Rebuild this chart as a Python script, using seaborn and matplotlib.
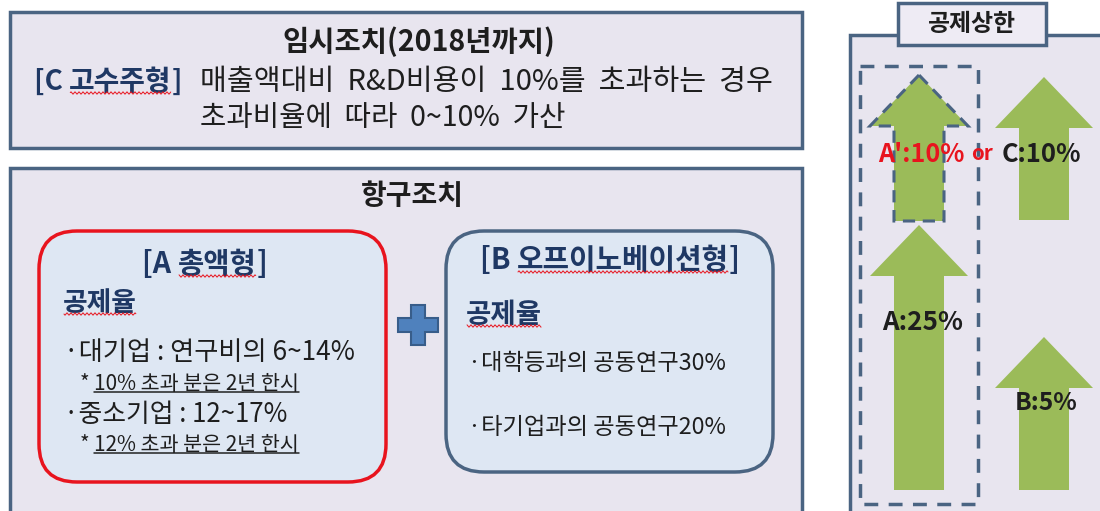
import numpy as np
import matplotlib
matplotlib.use("Agg")
import matplotlib.pyplot as plt
import seaborn as sns
from matplotlib.patches import Rectangle, FancyBboxPatch, FancyArrow, Polygon

sns.set_theme(style="white")
plt.rcParams['font.family'] = ['Noto Sans CJK KR', 'DejaVu Sans']

# ---- content ----
temp_title = "임시조치(2018년까지)"
temp_tag = ["[C ", "고수주형", "]"]
temp_line1 = "매출액대비  R&D비용이  10%를  초과하는  경우"
temp_line2 = "초과비율에  따라  0~10%  가산"
perm_title = "항구조치"
a_tag = ["[A ", "총액형", "]"]
a_head = "공제율"
a_items = ["·대기업 : 연구비의 6~14%", "·중소기업 : 12~17%"]
a_notes = ["10% 초과 분은 2년 한시", "12% 초과 분은 2년 한시"]
b_tag = ["[B ", "오프이노베이션형", "]"]
b_head = "공제율"
b_items = ["·대학등과의 공동연구30%", "·타기업과의 공동연구20%"]
cap_title = "공제상한"
cap_names = ["A'", "C", "A", "B"]
cap_rates = [10, 10, 25, 5]

# colors
PANEL_FILL = "#E8E5EF"
PANEL_EDGE = "#4A6482"
INNER_FILL = "#DEE7F3"
NAVY = "#1F3864"
GREEN = "#9BBB59"
RED = "#E8141E"
INK = "#1E1E1E"

fig = plt.figure(figsize=(11, 5.11), dpi=100)
ax = fig.add_axes([0, 0, 1, 1])
ax.set_xlim(0, 1100)
ax.set_ylim(511, 0)
ax.axis('off')
fig.patch.set_facecolor('white')
renderer = fig.canvas.get_renderer()
inv = ax.transData.inverted()


def extent(t):
    bb = t.get_window_extent(renderer)
    (x0, y0), (x1, y1) = inv.transform([[bb.x0, bb.y0], [bb.x1, bb.y1]])
    return min(x0, x1), max(x0, x1), min(y0, y1), max(y0, y1)


def wavy(x0, x1, y):
    xs = np.linspace(x0, x1, int((x1 - x0) * 2) + 2)
    ax.plot(xs, y + 1.1 * np.sin(xs * 2 * np.pi / 4.0), color=RED, lw=0.7, zorder=6)


def layout(texts, x):
    cur = x
    for t, _ in texts:
        t.set_x(cur)
        x0, x1, _, _ = extent(t)
        cur += (x1 - x0)
    return cur - x


def runs(x, y, parts, ha='left', width=None):
    """parts: list of (text, kwargs, deco). If width is given, font sizes are
    scaled so the whole line spans that width."""
    texts = []
    for s, kw, deco in parts:
        t = ax.text(x, y, s, va='center', ha='left', zorder=5, **kw)
        texts.append((t, deco))
    total = layout(texts, x)
    if width is not None:
        f = width / total
        for t, _ in texts:
            t.set_fontsize(t.get_fontsize() * f)
        total = layout(texts, x)
    start = x - total / 2 if ha == 'center' else x
    layout(texts, start)
    for t, deco in texts:
        x0, x1, y0, y1 = extent(t)
        if deco == 'wavy':
            wavy(x0 + 1, x1 - 1, y1 - 3)
        elif deco == 'under':
            ax.plot([x0, x1], [y1 - 3, y1 - 3], color="#222222", lw=1.1, zorder=6)
    return texts


def tag_parts(tag, size):
    kw = dict(fontsize=size, fontweight='bold', color=NAVY)
    return [(tag[0], kw, None), (tag[1], kw, 'wavy'), (tag[2], kw, None)]


# ---- top panel ----
ax.add_patch(Rectangle((10, 12), 792, 136, facecolor=PANEL_FILL, edgecolor=PANEL_EDGE, lw=2.5, zorder=1))
runs(419, 42, [(temp_title, dict(fontsize=20, fontweight='bold', color=INK), None)], ha='center', width=272)
runs(34, 82, tag_parts(temp_tag, 20), width=148)
runs(200, 82, [(temp_line1, dict(fontsize=20, color=INK), None)], width=572)
runs(200, 118, [(temp_line2, dict(fontsize=20, color=INK), None)], width=366)

# ---- bottom panel ----
ax.add_patch(Rectangle((10, 168), 792, 360, facecolor=PANEL_FILL, edgecolor=PANEL_EDGE, lw=2.5, zorder=1))
runs(412, 196, [(perm_title, dict(fontsize=18, fontweight='bold', color=INK), None)], ha='center', width=103)

ax.add_patch(FancyBboxPatch((39, 231), 347, 251, boxstyle="round,pad=0,rounding_size=38",
                            facecolor=INNER_FILL, edgecolor=RED, lw=2.5, zorder=2))
ax.add_patch(FancyBboxPatch((446, 231), 327, 241, boxstyle="round,pad=0,rounding_size=38",
                            facecolor=INNER_FILL, edgecolor=PANEL_EDGE, lw=2.5, zorder=2))

# A box
runs(205, 264, tag_parts(a_tag, 20), ha='center', width=125)
runs(63, 303, [(a_head, dict(fontsize=18, fontweight='bold', color=NAVY), 'wavy')], width=74)
runs(64, 352, [(a_items[0], dict(fontsize=18, color=INK), None)], width=291)
runs(64, 414, [(a_items[1], dict(fontsize=18, color=INK), None)], width=224)
for nt, yy in zip(a_notes, [384, 445]):
    runs(80, yy, [("* ", dict(fontsize=14, color=INK), None),
                  (nt, dict(fontsize=14, color=INK), 'under')], width=220)

# plus sign
px, py, arm, half = 418, 325, 20, 7
ax.add_patch(Polygon([(px - half, py - arm), (px + half, py - arm), (px + half, py - half), (px + arm, py - half),
                      (px + arm, py + half), (px + half, py + half), (px + half, py + arm), (px - half, py + arm),
                      (px - half, py + half), (px - arm, py + half), (px - arm, py - half), (px - half, py - half)],
                     closed=True, facecolor="#4F81BD", edgecolor="#385D8A", lw=1.5, zorder=3))

# B box
runs(610, 260, tag_parts(b_tag, 20), ha='center', width=260)
runs(466, 315, [(b_head, dict(fontsize=18, fontweight='bold', color=NAVY), 'wavy')], width=76)
runs(468, 363, [(b_items[0], dict(fontsize=16, color=INK), None)], width=259)
runs(468, 427, [(b_items[1], dict(fontsize=16, color=INK), None)], width=259)

# ---- right panel ----
ax.add_patch(Rectangle((850, 35), 300, 500, facecolor=PANEL_FILL, edgecolor=PANEL_EDGE, lw=2.5, zorder=1))
ax.add_patch(Rectangle((898, 3), 148, 42, facecolor="#EEEBF4", edgecolor=PANEL_EDGE, lw=2.5, zorder=3))
runs(972, 24, [(cap_title, dict(fontsize=15, fontweight='bold', color=INK), None)], ha='center', width=88)

ax.add_patch(Rectangle((860, 66), 118, 438, facecolor='none', edgecolor=PANEL_EDGE, lw=2.5,
                       linestyle=(0, (4, 3)), zorder=4))

# arrows: (x centre, bottom, top, dashed)
arrow_geom = {"A'": (919, 221, 75, True), "C": (1044, 220, 77, False),
              "A": (919, 490, 225, False), "B": (1044, 490, 337, False)}
for name in cap_names:
    xc, yb, yt, dashed = arrow_geom[name]
    arr = FancyArrow(xc, yb, 0, yt - yb, width=50, head_width=98, head_length=51,
                     length_includes_head=True, facecolor=GREEN,
                     edgecolor=(PANEL_EDGE if dashed else 'none'), lw=(2.2 if dashed else 0),
                     linestyle=((0, (4, 2.5)) if dashed else '-'), zorder=3)
    ax.add_patch(arr)

label_box = {"A'": (878, 965, 155), "C": (1002, 1082, 155), "A": (882, 963, 322), "B": (1015, 1078, 403)}
for name, rate in zip(cap_names, cap_rates):
    lx0, lx1, ly = label_box[name]
    runs(lx0, ly, [(f"{name}:{rate}%", dict(fontsize=16, fontweight='bold',
                                             color=(RED if name == "A'" else INK)), None)],
         width=lx1 - lx0)
runs(971, 153, [("or", dict(fontsize=12, fontweight='bold', color=RED), None)], width=22)

fig.savefig("out.png", dpi=100, facecolor='white')
